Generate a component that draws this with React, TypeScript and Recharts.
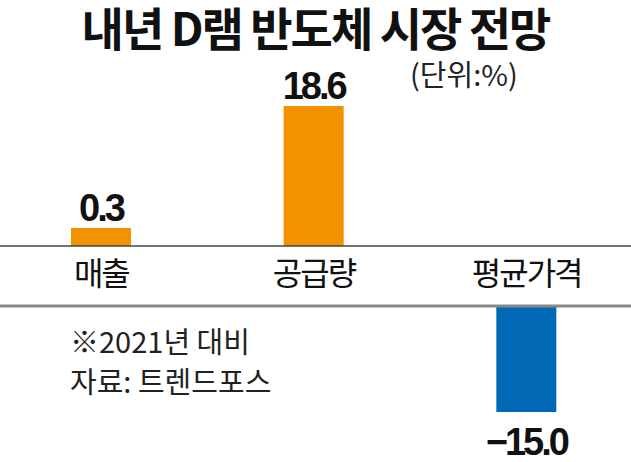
import { BarChart, Bar, XAxis, YAxis, LabelList, ReferenceLine } from "recharts";

const categories = ["매출", "공급량", "평균가격"];
const values = [0.3, 18.6, -15.0];
const valueLabels = ["0.3", "18.6", "−15.0"];

const title = "내년 D램 반도체 시장 전망";
const unitNote = "(단위:%)";
const footnotes = ["※2021년 대비", "자료: 트렌드포스"];

const ORANGE = "#F39200";
const BLUE = "#0068B4";
const KR = "'Noto Sans CJK KR', 'Noto Sans', sans-serif";
const NUM = "'Liberation Sans', Arial, sans-serif";

const upData = categories.map((name, i) => ({
  name,
  value: values[i] >= 0 ? values[i] : null,
  label: valueLabels[i],
}));
const downData = categories.map((name, i) => ({
  name,
  value: values[i] < 0 ? values[i] : null,
  label: valueLabels[i],
}));

const W = 638;
const H = 462;

function CategoryTick({ x, y, payload }: any) {
  return (
    <text
      x={x}
      y={y + 31}
      textAnchor="middle"
      fontFamily={KR}
      fontSize={32}
      letterSpacing={-2}
      fill="#111"
    >
      {payload.value}
    </text>
  );
}

// label under the end of a negative bar
function BelowLabel({ x, y, width, height, value }: any) {
  const bottom = Math.max(y, y + height);
  return (
    <text
      x={x + width / 2}
      y={bottom + 16}
      dy="0.72em"
      textAnchor="middle"
      fontFamily={NUM}
      fontWeight={700}
      fontSize={38}
      letterSpacing={-3}
      fill="#111"
    >
      {value}
    </text>
  );
}

export default function App() {
  return (
    <div style={{ position: "absolute", left: 0, top: 0, width: 631, height: 462, overflow: "hidden", background: "#fff" }}>
      <div
        style={{
          position: "absolute", left: 0, width: 631, top: 3, textAlign: "center",
          fontFamily: KR, fontWeight: 700, fontSize: 46, letterSpacing: -2, lineHeight: "46px", color: "#111",
        }}
      >
        {title}
      </div>
      <div
        style={{
          position: "absolute", left: 410, top: 57, fontFamily: KR, fontSize: 29,
          lineHeight: "32px", color: "#222",
        }}
      >
        {unitNote}
      </div>

      <div style={{ position: "absolute", left: -5, top: 0 }}>
        <BarChart width={W} height={H} data={upData} margin={{ top: 106, right: 0, left: 0, bottom: H - 246 - 60 }}>
          <XAxis
            dataKey="name"
            height={60}
            tickLine={false}
            axisLine={{ stroke: "#444", strokeWidth: 1.5 }}
            tick={<CategoryTick />}
            interval={0}
          />
          <YAxis hide domain={[0, 18.6]} />
          <Bar dataKey="value" fill={ORANGE} barSize={60} minPointSize={18} isAnimationActive={false}>
            <LabelList
              dataKey="label"
              position="top"
              offset={7}
              fontFamily={NUM}
              fontWeight={700}
              fontSize={38}
              letterSpacing={-3}
              fill="#111"
            />
          </Bar>
        </BarChart>
      </div>

      <div style={{ position: "absolute", left: -5, top: 0 }}>
        <BarChart width={W} height={H} data={downData} margin={{ top: 306, right: 0, left: 0, bottom: H - 412 }}>
          <XAxis dataKey="name" hide />
          <YAxis hide domain={[-15, 0]} />
          <Bar dataKey="value" fill={BLUE} barSize={60} isAnimationActive={false}>
            <LabelList dataKey="label" content={<BelowLabel />} />
          </Bar>
          <ReferenceLine y={0} stroke="#888" strokeWidth={3} />
        </BarChart>
      </div>

      {footnotes.map((t, i) => (
        <div
          key={t}
          style={{
            position: "absolute", left: 70, top: 322 + i * 40, fontFamily: KR, fontSize: 29,
            lineHeight: "36px", color: "#222",
          }}
        >
          {t}
        </div>
      ))}
    </div>
  );
}
